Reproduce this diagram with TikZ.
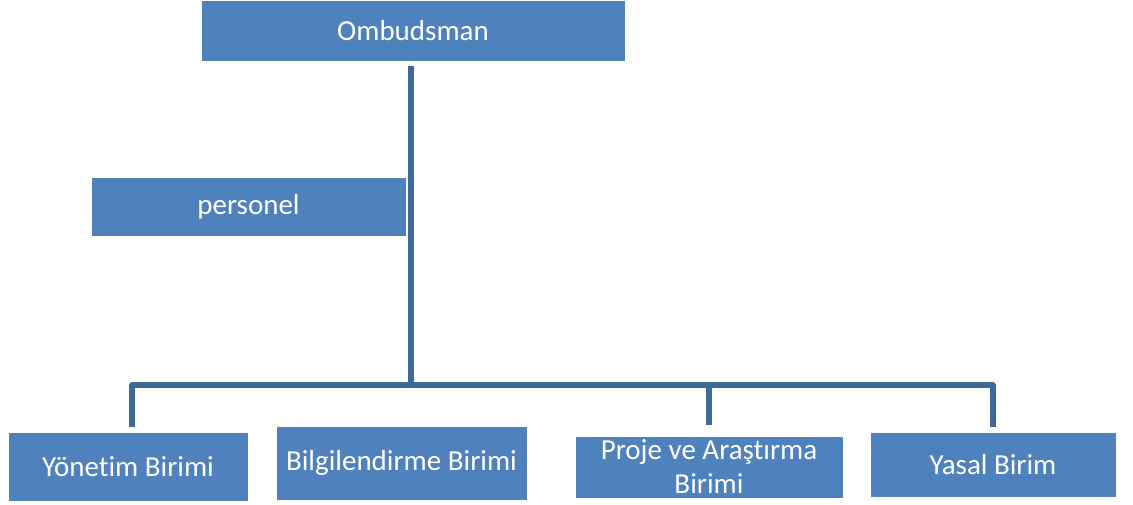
\documentclass[tikz,border=0pt]{standalone}
\usepackage{fontspec}
\setmainfont[Ligatures={NoCommon}]{Carlito}
\definecolor{boxblue}{HTML}{4F81BD}
\definecolor{lineblue}{HTML}{3E6A9A}
\begin{document}
\begin{tikzpicture}[x=1pt,y=-1pt,
  unit/.style={fill=boxblue,draw=white,line width=0.6pt,text=white,font=\fontsize{29}{34}\selectfont,align=center,inner sep=0pt},
  conn/.style={draw=lineblue,line width=5.5pt}]
\useasboundingbox (0,0) rectangle (1133,504);
\node[unit,minimum width=424pt,minimum height=61pt] (omb) at (413,31) {Ombudsman};
\node[unit,minimum width=315pt,minimum height=59pt] (pers) at (248.5,206.5) {personel};
\node[unit,minimum width=240pt,minimum height=69pt] (yon) at (128,466.5) {Yönetim Birimi};
\node[unit,minimum width=251pt,minimum height=74pt] (bil) at (401.5,463) {Bilgilendirme Birimi};
\node[unit,minimum width=268pt,minimum height=62pt] (pro) at (709,467) {Proje ve Araştırma\\Birimi};
\node[unit,minimum width=246pt,minimum height=65pt] (yas) at (993,464.5) {Yasal Birim};
\coordinate (top) at (411,66);
\coordinate (hub) at (411,387);
\coordinate (l) at (132,385);
\coordinate (m) at (709,385);
\coordinate (r) at (993,385);
\draw[conn] (top) -- (hub);
\draw[conn,line join=round] (yon.north -| l) ++(0,-5) -- (l) -- (r) -- ++(0,42);
\draw[conn] (m) -- ++(0,40);
\end{tikzpicture}
\end{document}
